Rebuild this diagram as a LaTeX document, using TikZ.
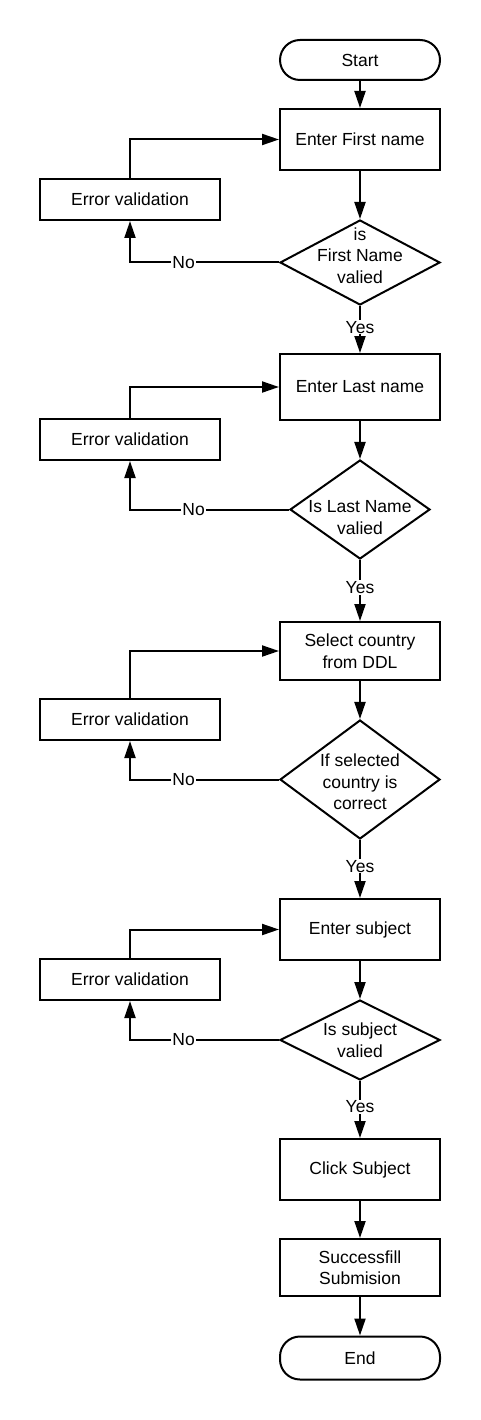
\documentclass[tikz,border=0pt]{standalone}
\usepackage{fontspec}
\setmainfont{Liberation Sans}
\usepackage{tikz}
\usetikzlibrary{arrows.meta,shapes.geometric,positioning}

\begin{document}
\begin{tikzpicture}[x=1pt,y=-1pt]
                \tikzstyle{every node}+=[font=\fontsize{17.5}{21.5}\selectfont, align=center]
                \tikzstyle{flow}=[draw, line width=2pt, inner sep=0pt]
                \tikzstyle{term}=[flow, rectangle, rounded corners=20pt, minimum width=160pt]
                \tikzstyle{proc}=[flow, rectangle, minimum width=160pt]
                \tikzstyle{errbox}=[flow, rectangle, minimum width=180pt, minimum height=41pt]
                \tikzstyle{decide}=[flow, diamond, shape aspect=1]
                \tikzstyle{link}=[line width=2pt, -{Triangle[length=17pt,width=11pt]}]
                \tikzstyle{tag}=[fill=white, inner sep=1pt]
                \useasboundingbox (0,0) rectangle (480,1420);
                % main column
                \node [term, minimum height=40pt] (start) at (360,60) {Start};
                \node [proc, minimum height=61pt] (first) at (360,139.5) {Enter First name};
                \node [decide, minimum width=160pt, minimum height=85pt, label={[yshift=7pt]center:is\\First Name\\valied}] (okfirst) at (360,262.5) {};
                \node [proc, minimum height=66pt] (last) at (360,387) {Enter Last name};
                \node [decide, minimum width=140pt, minimum height=99pt, label={[yshift=-8pt]center:Is Last Name\\valied}] (oklast) at (360,509.5) {};
                \node [proc, minimum height=58pt] (country) at (360,651) {Select country\\from DDL};
                \node [decide, minimum width=160pt, minimum height=119pt, label={[yshift=-2.5pt]center:If selected\\country is\\correct}] (okcountry) at (360,779.5) {};
                \node [proc, minimum height=61pt] (subject) at (360,929.5) {Enter subject};
                \node [decide, minimum width=160pt, minimum height=80pt, label={center:Is subject\\valied}] (oksubject) at (360,1040) {};
                \node [proc, minimum height=61pt] (click) at (360,1169.5) {Click Subject};
                \node [proc, minimum height=57pt] (success) at (360,1267.5) {Successfill\\Submision};
                \node [term, minimum height=43pt] (end) at (360,1358) {End};
                % error boxes
                \node [errbox] (err1) at (130,199.5) {Error validation};
                \node [errbox] (err2) at (130,439.5) {Error validation};
                \node [errbox] (err3) at (130,719.5) {Error validation};
                \node [errbox] (err4) at (130,979.5) {Error validation};
                % straight links
                \draw [link] (start) -- (first);
                \draw [link] (first) -- (okfirst);
                \draw [link] (last) -- (oklast);
                \draw [link] (country) -- (okcountry);
                \draw [link] (subject) -- (oksubject);
                \draw [link] (click) -- (success);
                \draw [link] (success) -- (end);
                \draw [link] (okfirst) -- node [tag, pos=.45] {Yes} (last);
                \draw [link] (oklast) -- node [tag, pos=.45] {Yes} (country);
                \draw [link] (okcountry) -- node [tag, pos=.45] {Yes} (subject);
                \draw [link] (oksubject) -- node [tag, pos=.45] {Yes} (click);
                % no branches
                \draw [link] (okfirst.west) -| node [tag, pos=.32] {No} (err1.south);
                \draw [link] (oklast.west) -| node [tag, pos=.3] {No} (err2.south);
                \draw [link] (okcountry.west) -| node [tag, pos=.32] {No} (err3.south);
                \draw [link] (oksubject.west) -| node [tag, pos=.32] {No} (err4.south);
                % back to the input
                \draw [link] (err1.north) |- (first.west);
                \draw [link] (err2.north) |- (last.west);
                \draw [link] (err3.north) |- (country.west);
                \draw [link] (err4.north) |- (subject.west);
\end{tikzpicture}
\end{document}
